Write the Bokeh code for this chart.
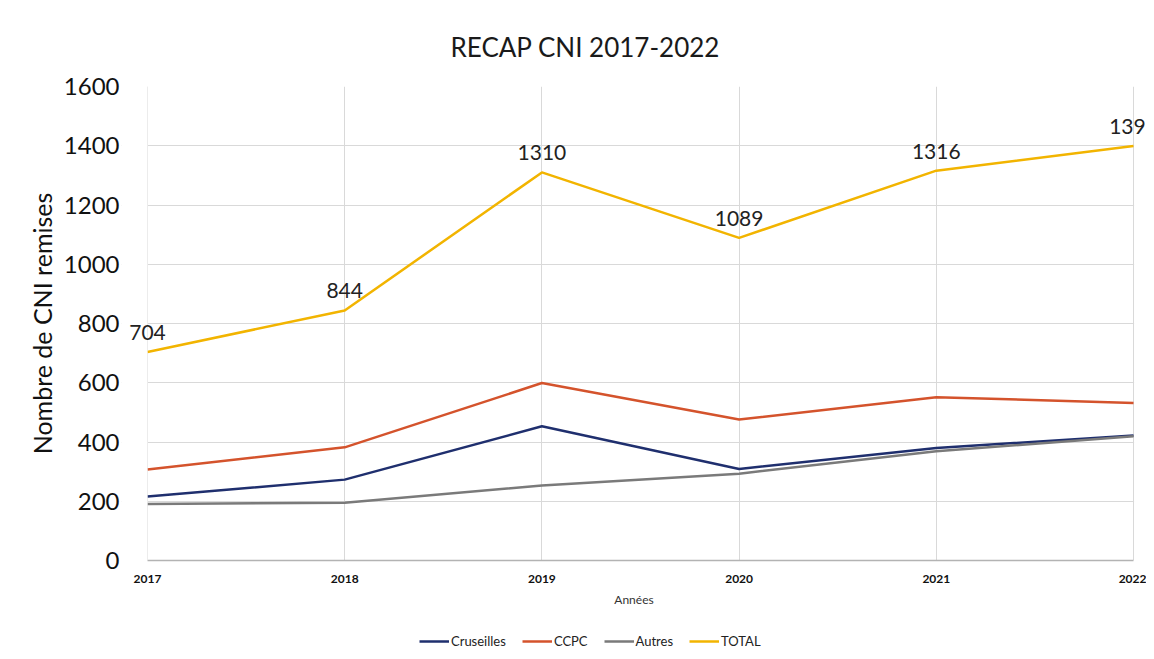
from bokeh.plotting import figure
from bokeh.layouts import column
from bokeh.models import ColumnDataSource, Label, Legend, LegendItem, FixedTicker, BoxAnnotation
from bokeh.embed import file_html
from bokeh.resources import INLINE

years = [2017, 2018, 2019, 2020, 2021, 2022]
cruseilles = [216, 273, 453, 309, 380, 422]
ccpc = [307, 382, 599, 476, 551, 532]
autres = [191, 195, 253, 293, 369, 419]
total = [704, 844, 1310, 1089, 1316, 1399]
y_ticks = [0, 200, 400, 600, 800, 1000, 1200, 1400, 1600]
series_names = ["Cruseilles", "CCPC", "Autres", "TOTAL"]
series_cols = ["cru", "ccpc", "aut", "tot"]
series_colors = ["#1f2f6e", "#d4532c", "#7a7a7a", "#f2b400"]

FONT = "Lato"
PX_PER_YEAR = 197.2          # horizontal scale of the plot area
PAD_L, PAD_R = 26, 13         # room (px) so the first/last data labels are not clipped

p = figure(width=1146, height=630, output_backend="svg", toolbar_location=None,
           x_range=(years[0] - PAD_L / PX_PER_YEAR, years[-1] + PAD_R / PX_PER_YEAR),
           y_range=(0, 1600),
           min_border_left=121, min_border_right=0, min_border_top=86, min_border_bottom=70)
p.outline_line_color = None
p.background_fill_color = "white"
p.border_fill_color = "white"

p.title.text = "RECAP CNI 2017-2022"
p.title.text_font = FONT
p.title.text_font_size = "26px"
p.title.text_font_style = "normal"
p.title.text_color = "#1a1a1a"
p.title.align = "left"
p.title.offset = 329
p.title.standoff = 47

# axes
p.yaxis.ticker = FixedTicker(ticks=y_ticks)
p.yaxis.axis_line_color = None
p.yaxis.major_tick_line_color = None
p.yaxis.major_tick_out = 0
p.yaxis.major_tick_in = 0
p.yaxis.minor_tick_line_color = None
p.yaxis.major_label_text_font = FONT
p.yaxis.major_label_text_font_size = "24px"
p.yaxis.major_label_text_color = "#111111"
p.yaxis.major_label_standoff = 2
p.yaxis.axis_label = "Nombre de CNI remises"
p.yaxis.axis_label_text_font = FONT
p.yaxis.axis_label_text_font_size = "25px"
p.yaxis.axis_label_text_font_style = "normal"
p.yaxis.axis_label_text_color = "#111111"
p.yaxis.axis_label_standoff = 4

p.xaxis.ticker = FixedTicker(ticks=years)
p.xaxis.bounds = (years[0], years[-1])
p.xaxis.axis_line_color = "#b3b3b3"
p.xaxis.axis_line_width = 1.5
p.xaxis.major_tick_line_color = None
p.xaxis.minor_tick_line_color = None
p.xaxis.major_label_text_font = FONT
p.xaxis.major_label_text_font_size = "12px"
p.xaxis.major_label_text_font_style = "bold"
p.xaxis.major_label_text_color = "#111111"
p.xaxis.major_label_standoff = 8
p.xaxis.axis_label = "Années"
p.xaxis.axis_label_text_font = FONT
p.xaxis.axis_label_text_font_size = "12px"
p.xaxis.axis_label_text_font_style = "normal"
p.xaxis.axis_label_text_color = "#333333"
p.xaxis.axis_label_standoff = 6

p.xgrid.ticker = FixedTicker(ticks=years)
p.xgrid.grid_line_color = "#d9d9d9"
p.ygrid.grid_line_color = "#d9d9d9"

src = ColumnDataSource(dict(x=years, cru=cruseilles, ccpc=ccpc, aut=autres, tot=total))

for col, color in zip(series_cols, series_colors):
    p.line("x", col, source=src, line_color=color, line_width=2.5)

# hide the grid outside the 2017-2022 span (padding kept only for the labels)
p.add_layout(BoxAnnotation(right=years[0], fill_color="white", fill_alpha=1, line_color=None))
p.add_layout(BoxAnnotation(left=years[-1] + 0.003, fill_color="white", fill_alpha=1, line_color=None))

for yr, v in zip(years, total):
    p.add_layout(Label(x=yr, y=v, text=str(v), y_offset=12,
                       text_align="center", text_baseline="bottom",
                       text_font=FONT, text_font_size="21px", text_color="#222222"))

# legend strip
lg = figure(width=1146, height=21, output_backend="svg", toolbar_location=None,
            x_axis_location=None, y_axis_location=None,
            min_border_left=0, min_border_right=0, min_border_top=0, min_border_bottom=0)
lg.outline_line_color = None
lg.xgrid.visible = False
lg.ygrid.visible = False
items = []
for name, col, color in zip(series_names, series_cols, series_colors):
    r = lg.line("x", col, source=src, line_color=color, line_width=2.5, visible=False)
    items.append(LegendItem(label=name, renderers=[r]))
legend = Legend(items=items, orientation="horizontal", location=(298, 2),
                label_text_font=FONT, label_text_font_size="13px", label_text_color="#222222",
                glyph_width=30, glyph_height=14, label_standoff=2, spacing=16,
                label_height=14, inactive_fill_alpha=0,
                border_line_color=None, background_fill_alpha=0,
                margin=0, padding=0)
lg.add_layout(legend)

open("out.html", "w").write(file_html(column(p, lg, spacing=0), INLINE))
